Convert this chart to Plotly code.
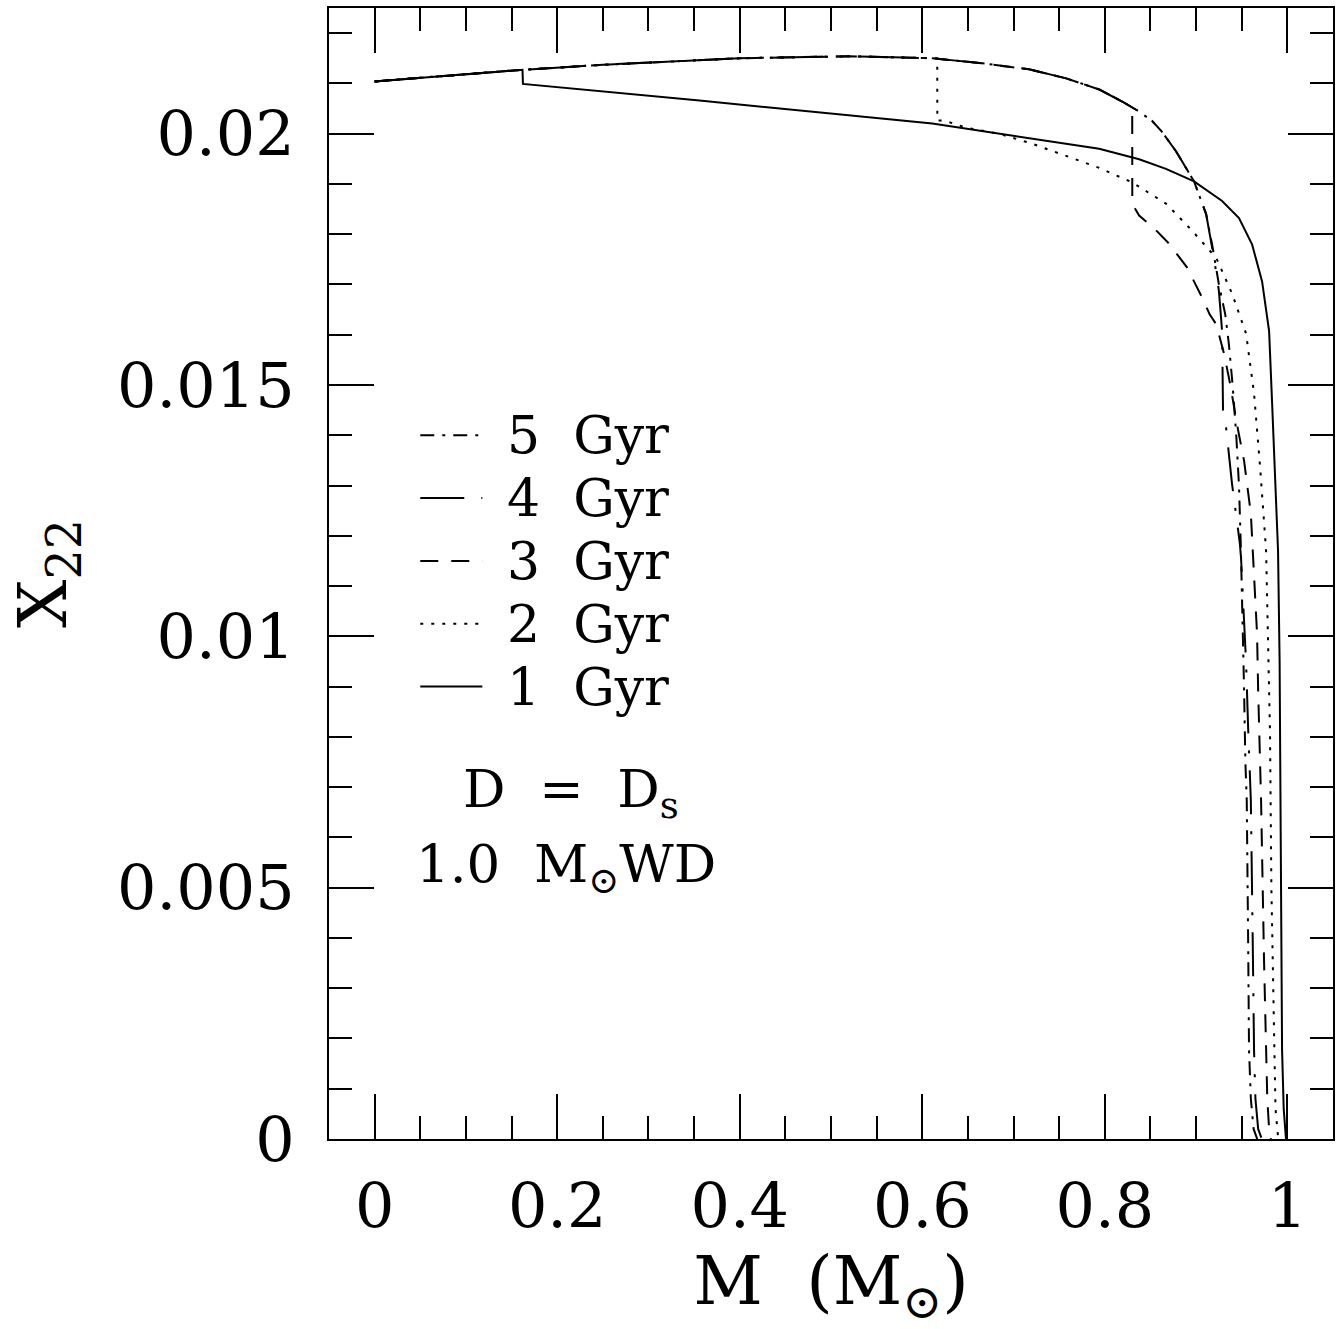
import plotly.graph_objects as go

# ---------------- data ----------------
m_1gyr = [0, 0.08, 0.162, 0.1625, 0.3559, 0.611, 0.7938, 0.8376, 0.867, 0.8978, 0.9285,
          0.947, 0.9613, 0.9723, 0.980, 0.9832, 0.9865, 0.9898, 0.9915, 0.992, 0.993,
          0.9942, 0.996, 0.9985]
x22_1gyr = [0.02104, 0.02116, 0.02127, 0.02099, 0.02066, 0.02020, 0.01970, 0.01949, 0.01930,
            0.01905, 0.01866, 0.01832, 0.01780, 0.01706, 0.01607, 0.01468, 0.01320, 0.01170,
            0.00950, 0.00807, 0.00500, 0.00177, 0.00060, 0.0]

m_2gyr = [0, 0.08, 0.162, 0.25, 0.3559, 0.3997, 0.52, 0.6164, 0.6165, 0.624, 0.648, 0.684,
          0.7205, 0.7577, 0.7938, 0.830, 0.867, 0.8956, 0.922, 0.9394, 0.9548, 0.9635,
          0.970, 0.9767, 0.981, 0.9825, 0.9854, 0.987, 0.990]
x22_2gyr = [0.02104, 0.02116, 0.02127, 0.02137, 0.02146, 0.02150, 0.02154, 0.02150, 0.02026,
            0.02026, 0.02012, 0.02000, 0.01980, 0.01956, 0.01932, 0.01903, 0.01861, 0.01807,
            0.01753, 0.01682, 0.01602, 0.01483, 0.01340, 0.01170, 0.00807, 0.00500, 0.00177,
            0.00060, 0.0]

m_3gyr = [0, 0.08, 0.162, 0.25, 0.3559, 0.3997, 0.52, 0.611, 0.6657, 0.717, 0.7577, 0.7938,
          0.819, 0.830, 0.8301, 0.8376, 0.855, 0.8705, 0.890, 0.9066, 0.915, 0.922, 0.9307,
          0.9375, 0.9450, 0.9526, 0.960, 0.9635, 0.9668, 0.968, 0.9712, 0.9745, 0.9767,
          0.978, 0.980, 0.982]
x22_3gyr = [0.02104, 0.02116, 0.02127, 0.02137, 0.02146, 0.02150, 0.02154, 0.02150, 0.02140,
            0.02128, 0.02110, 0.02088, 0.02064, 0.02052, 0.01860, 0.01837, 0.01810, 0.01781,
            0.01734, 0.01674, 0.01640, 0.01621, 0.01562, 0.01500, 0.01420, 0.01349, 0.01244,
            0.01117, 0.01005, 0.00892, 0.00673, 0.00350, 0.00177, 0.00080, 0.00020, 0.0]

m_4gyr = [0, 0.08, 0.162, 0.25, 0.3559, 0.3997, 0.52, 0.611, 0.6657, 0.717, 0.7577, 0.7938,
          0.819, 0.8376, 0.852, 0.862, 0.878, 0.8978, 0.911, 0.9197, 0.925, 0.9285, 0.9295,
          0.933, 0.9394, 0.948, 0.9493, 0.9548, 0.957, 0.960, 0.962, 0.9635, 0.965, 0.968,
          0.972]
x22_4gyr = [0.02104, 0.02116, 0.02127, 0.02137, 0.02146, 0.02150, 0.02154, 0.02150, 0.02140,
            0.02128, 0.02110, 0.02088, 0.02064, 0.02044, 0.02025, 0.02005, 0.01965, 0.01905,
            0.01840, 0.01752, 0.01687, 0.01607, 0.01450, 0.01413, 0.01303, 0.01184, 0.01154,
            0.00946, 0.00819, 0.00673, 0.00400, 0.00177, 0.00080, 0.00020, 0.0]

m_5gyr = [0, 0.08, 0.162, 0.25, 0.3559, 0.3997, 0.52, 0.611, 0.6657, 0.717, 0.7577, 0.7938,
          0.819, 0.8376, 0.852, 0.862, 0.878, 0.8978, 0.911, 0.9175, 0.925, 0.932, 0.936,
          0.940, 0.944, 0.947, 0.949, 0.951, 0.9525, 0.954, 0.9555, 0.957, 0.958, 0.960,
          0.963, 0.967]
x22_5gyr = [0.02104, 0.02116, 0.02127, 0.02137, 0.02146, 0.02150, 0.02154, 0.02150, 0.02140,
            0.02128, 0.02110, 0.02088, 0.02064, 0.02044, 0.02025, 0.02005, 0.01965, 0.01905,
            0.01840, 0.01780, 0.01700, 0.01640, 0.01580, 0.01500, 0.01400, 0.01300, 0.01180,
            0.01040, 0.00900, 0.00750, 0.00673, 0.00400, 0.00177, 0.00080, 0.00020, 0.0]

series_labels = ["5 Gyr", "4 Gyr", "3 Gyr", "2 Gyr", "1 Gyr"]

x_tickvals = [0, 0.2, 0.4, 0.6, 0.8, 1.0]
x_ticktext = ["0", "0.2", "0.4", "0.6", "0.8", "1"]
y_tickvals = [0, 0.005, 0.01, 0.015, 0.02]
y_ticktext = ["0", "0.005", "0.01", "0.015", "0.02"]

# ---------------- styles ----------------
FONT = "DejaVu Serif"
dash_styles = {
    "5 Gyr": "14px,8px,3px,8px",
    "4 Gyr": "44px,17px,3px,17px",
    "3 Gyr": "18px,13px",
    "2 Gyr": "3px,8px",
    "1 Gyr": "solid",
}
curves = {
    "1 Gyr": (m_1gyr, x22_1gyr),
    "2 Gyr": (m_2gyr, x22_2gyr),
    "3 Gyr": (m_3gyr, x22_3gyr),
    "4 Gyr": (m_4gyr, x22_4gyr),
    "5 Gyr": (m_5gyr, x22_5gyr),
}

fig = go.Figure()
for name, (mx, xy) in curves.items():
    fig.add_trace(go.Scatter(
        x=mx, y=xy, mode="lines", name=name, showlegend=False,
        line=dict(color="black", width=2, dash=dash_styles[name]),
    ))

# in-plot legend (line samples + labels), data coordinates
legend_y = [0.014, 0.01275, 0.0115, 0.01025, 0.009]
for lab, ly in zip(series_labels, legend_y):
    fig.add_shape(type="line", xref="x", yref="y", x0=0.05, x1=0.118, y0=ly, y1=ly,
                  line=dict(color="black", width=2, dash=dash_styles[lab]))
    fig.add_annotation(x=0.143, y=ly, xref="x", yref="y", text=lab.replace(" ", "&nbsp;&nbsp;"),
                       showarrow=False, xanchor="left", yanchor="middle",
                       font=dict(family=FONT, size=52, color="black"))

fig.add_annotation(x=0.215, y=0.0069, xref="x", yref="y",
                   text="D&nbsp;&nbsp;=&nbsp;&nbsp;D<sub>s</sub>", showarrow=False,
                   xanchor="center", yanchor="middle",
                   font=dict(family=FONT, size=53, color="black"))
fig.add_annotation(x=0.21, y=0.0054, xref="x", yref="y",
                   text="1.0&nbsp; M<sub>⊙</sub>WD", showarrow=False,
                   xanchor="center", yanchor="middle",
                   font=dict(family=FONT, size=53, color="black"))

axis_common = dict(
    showgrid=False, zeroline=False, showline=True, linecolor="black", linewidth=2,
    mirror="allticks", ticks="inside", ticklen=45, tickwidth=2, tickcolor="black",
    tickfont=dict(family=FONT, size=62, color="black"),
)

fig.update_xaxes(
    range=[-0.05, 1.05], tickvals=x_tickvals, ticktext=x_ticktext,
    minor=dict(dtick=0.05, tick0=0, ticks="inside", ticklen=23, tickwidth=2, tickcolor="black"),
    title=dict(text="M&nbsp;&nbsp;(M<sub>⊙</sub>)", font=dict(family=FONT, size=68, color="black"),
               standoff=14),
    ticklabelstandoff=12,
    **axis_common,
)
fig.update_yaxes(
    range=[0, 0.0225], tickvals=y_tickvals, ticktext=y_ticktext,
    minor=dict(dtick=0.001, tick0=0, ticks="inside", ticklen=23, tickwidth=2, tickcolor="black"),
    title=dict(text="X<sub>22</sub>", font=dict(family=FONT, size=68, color="black"),
               standoff=28),
    ticklabelstandoff=20,
    **axis_common,
)

fig.update_layout(
    width=1341, height=1329,
    margin=dict(l=329, r=7, t=6, b=190),
    paper_bgcolor="white", plot_bgcolor="white",
    showlegend=False,
)

fig.write_html("out.html")
